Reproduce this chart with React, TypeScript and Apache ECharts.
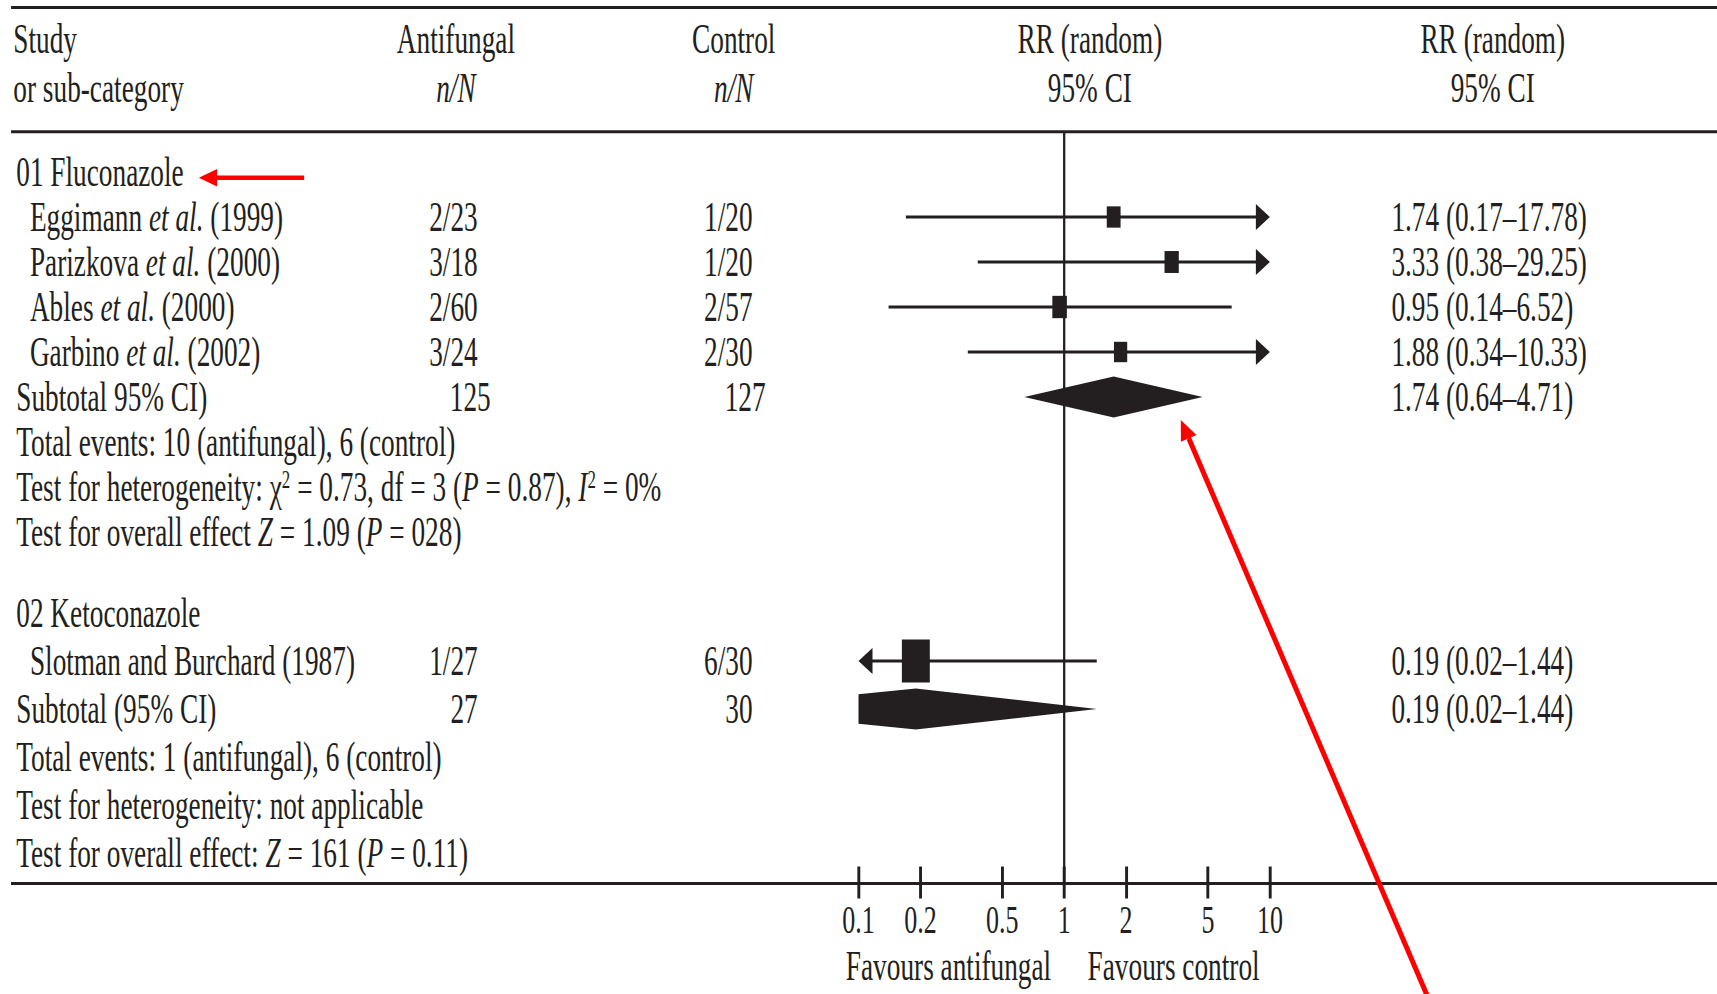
import React, { useEffect, useRef } from "react";
import * as echarts from "echarts";

// ---------------- data ----------------
const sectionTitles = ["01 Fluconazole", "02 Ketoconazole"];
const studyNames = [
  "Eggimann et al. (1999)",
  "Parizkova et al. (2000)",
  "Ables et al. (2000)",
  "Garbino et al. (2002)",
  "Slotman and Burchard (1987)",
];
const studySection = [0, 0, 0, 0, 1];
const antifungalEvents = ["2/23", "3/18", "2/60", "3/24", "1/27"];
const controlEvents = ["1/20", "1/20", "2/57", "2/30", "6/30"];
const studyRR = [1.74, 3.33, 0.95, 1.88, 0.19];
const studyLow = [0.17, 0.38, 0.14, 0.34, 0.02];
const studyHigh = [17.78, 29.25, 6.52, 10.33, 1.44];
const studyWeight = [24.5, 26, 27, 22.5, 100];

const subtotalLabels = ["Subtotal 95% CI)", "Subtotal (95% CI)"];
const subtotalAntifungal = ["125", "27"];
const subtotalControl = ["127", "30"];
const subtotalRR = [1.74, 0.19];
const subtotalLow = [0.64, 0.02];
const subtotalHigh = [4.71, 1.44];
const totalEvents = [
  "Total events: 10 (antifungal), 6 (control)",
  "Total events: 1 (antifungal), 6 (control)",
];
const heterogeneity = [
  "Test for heterogeneity: χ² = 0.73, df = 3 (P = 0.87), I² = 0%",
  "Test for heterogeneity: not applicable",
];
const overallEffect = [
  "Test for overall effect Z = 1.09 (P = 028)",
  "Test for overall effect: Z = 161 (P = 0.11)",
];

const tickValues = [0.1, 0.2, 0.5, 1, 2, 5, 10];
const axisMin = 0.1;
const axisMax = 10;
const nullEffect = 1;
const favourLabels = ["Favours antifungal", "Favours control"];
const headerTop = ["Study", "Antifungal", "Control", "RR (random)", "RR (random)"];
const headerBottom = ["or sub-category", "{it|n/N}", "{it|n/N}", "95% CI", "95% CI"];

// ---------------- layout (virtual, horizontally condensed canvas) ----------------
const VW = 2642;
const VH = 994;
const SX = 1717 / VW;
const INK = "#231f20";
const RED = "#ff0000";
const FONT = "'Liberation Serif', 'Times New Roman', Times, serif";
const FS = 42;

const GRID_LEFT = 1321;
const GRID_RIGHT = VW - 1954;
const AXIS_Y = 883.5;

const X_LEFT = 25;
const X_STUDY = 46;
const X_ANTI = 735;
const X_CTRL = 1158;
const X_RR = 2141;
const WIDE_SHIFT = 20;
const HEADER_X = [20.5, 701.5, 1129, 1677, 2297];
const HEADER_ALIGN = ["left", "center", "center", "center", "center"];

const SQ_FULL = 43;
const AH_L = 21.5;
const AH_W = 13;
const DIAMOND_H = 20.5;

const baseRich = { fontFamily: FONT, fontSize: FS, lineHeight: FS, fill: INK };
const rich: any = {
  n: { ...baseRich },
  it: { ...baseRich, fontStyle: "italic" },
  sup: { fontFamily: FONT, fontSize: 26, lineHeight: 26, fill: INK, verticalAlign: "top" },
};

const fmt = (t: string) =>
  t
    .replace("et al.", "{it|et al.}")
    .replace(/\(P =/g, "({it|P} =")
    .replace(/Z =/g, "{it|Z} =")
    .replace("I²", "{it|I}{sup|2}")
    .replace(/²/g, "{sup|2}");

const rrText = (v: number, lo: number, hi: number) =>
  `${v.toFixed(2)} (${lo.toFixed(2)}–${hi.toFixed(2)})`;

function label(x: number, y: number, text: string, align = "left", size = FS): any {
  return {
    type: "text",
    x,
    y,
    style: {
      legacy: false,
      text,
      fill: INK,
      fontFamily: FONT,
      fontSize: size,
      lineHeight: size,
      align,
      verticalAlign: "middle",
      rich,
    },
  };
}
const hline = (x1: number, x2: number, y: number, w = 3): any => ({
  type: "line",
  shape: { x1, y1: y, x2, y2: y },
  style: { stroke: INK, lineWidth: w },
});
const poly = (points: number[][], fill = INK): any => ({
  type: "polygon",
  shape: { points },
  style: { fill },
});

function sectionRows(s: number) {
  const rows: any[] = [{ kind: "title", text: sectionTitles[s] }];
  studyNames.forEach((_, i) => {
    if (studySection[i] === s) rows.push({ kind: "study", i });
  });
  rows.push({ kind: "subtotal", s });
  rows.push({ kind: "note", text: totalEvents[s] });
  rows.push({ kind: "note", text: heterogeneity[s] });
  rows.push({ kind: "note", text: overallEffect[s] });
  return rows;
}

function makeRenderer(rows: any[]) {
  return (params: any, api: any) => {
    const r = rows[params.dataIndex];
    const k = params.dataIndex;
    const px = (v: number) => api.coord([v, k])[0];
    const y = api.coord([nullEffect, k])[1];
    const children: any[] = [];
    if (r.kind === "title" || r.kind === "note") {
      children.push(label(X_LEFT, y, fmt(r.text)));
    } else if (r.kind === "study") {
      const i = r.i;
      const lo = studyLow[i];
      const hi = studyHigh[i];
      let xl = px(Math.max(lo, axisMin));
      let xr = px(Math.min(hi, axisMax));
      const xlTip = xl;
      const xrTip = xr;
      if (hi > axisMax) xr -= AH_L - 1;
      if (lo < axisMin) xl += AH_L - 1;
      children.push(hline(xl, xr, y, 3));
      if (hi > axisMax) children.push(poly([[xrTip, y], [xrTip - AH_L, y - AH_W], [xrTip - AH_L, y + AH_W]]));
      if (lo < axisMin) children.push(poly([[xlTip, y], [xlTip + AH_L, y - AH_W], [xlTip + AH_L, y + AH_W]]));
      const side = SQ_FULL * Math.sqrt(studyWeight[i] / 100);
      const xc = px(studyRR[i]);
      children.push({
        type: "rect",
        shape: { x: xc - side / 2, y: y - side / 2, width: side, height: side },
        style: { fill: INK },
      });
      children.push(label(X_STUDY, y, fmt(studyNames[i])));
      children.push(label(X_ANTI, y, antifungalEvents[i], "right"));
      children.push(label(X_CTRL, y, controlEvents[i], "right"));
      children.push(label(X_RR, y, rrText(studyRR[i], lo, hi)));
    } else if (r.kind === "subtotal") {
      const s = r.s;
      const xl = px(subtotalLow[s]);
      const xc = px(subtotalRR[s]);
      const xr = px(subtotalHigh[s]);
      const xmin = px(axisMin);
      const xmax = px(axisMax);
      const h = DIAMOND_H;
      const pts: number[][] = [];
      if (xl < xmin) {
        const d = (h * (xmin - xl)) / (xc - xl);
        pts.push([xmin, y + d], [xmin, y - d]);
      } else pts.push([xl, y]);
      pts.push([xc, y - h]);
      if (xr > xmax) {
        const d = (h * (xr - xmax)) / (xr - xc);
        pts.push([xmax, y - d], [xmax, y + d]);
      } else pts.push([xr, y]);
      pts.push([xc, y + h]);
      children.push(poly(pts));
      const a = subtotalAntifungal[s];
      const c = subtotalControl[s];
      children.push(label(X_LEFT, y, subtotalLabels[s]));
      children.push(label(X_ANTI + (a.length > 2 ? WIDE_SHIFT : 0), y, a, "right"));
      children.push(label(X_CTRL + (c.length > 2 ? WIDE_SHIFT : 0), y, c, "right"));
      children.push(label(X_RR, y, rrText(subtotalRR[s], subtotalLow[s], subtotalHigh[s])));
    }
    return { type: "group", children };
  };
}

const rows1 = sectionRows(0);
const rows2 = sectionRows(1);

function buildOption(): any {
  const logAxis = (gridIndex: number, extra: any = {}) => ({
    gridIndex,
    type: "log",
    logBase: 10,
    min: axisMin,
    max: axisMax,
    show: false,
    splitLine: { show: false },
    ...extra,
  });
  const header: any[] = [];
  headerTop.forEach((t, c) => {
    header.push(label(HEADER_X[c], 39, t, HEADER_ALIGN[c]));
    header.push(label(HEADER_X[c], 88, headerBottom[c], HEADER_ALIGN[c]));
  });
  return {
    animation: false,
    backgroundColor: "#ffffff",
    grid: [
      { left: GRID_LEFT, right: GRID_RIGHT, top: 133, bottom: VH - AXIS_Y },
      { left: GRID_LEFT, right: GRID_RIGHT, top: 149.5, height: 405 },
      { left: GRID_LEFT, right: GRID_RIGHT, top: 589, height: 288 },
      { left: GRID_LEFT, right: GRID_RIGHT, top: 133, bottom: VH - AXIS_Y },
    ],
    xAxis: [
      logAxis(0, {
        show: true,
        position: "bottom",
        axisLine: { show: false },
        axisTick: {
          show: true,
          inside: true,
          length: 17,
          customValues: tickValues,
          lineStyle: { color: INK, width: 4.5 },
        },
        axisLabel: {
          show: true,
          customValues: tickValues,
          margin: 16,
          color: INK,
          fontFamily: FONT,
          fontSize: 40,
          hideOverlap: false,
          formatter: (v: number) => String(+Number(v).toPrecision(3)),
        },
      }),
      logAxis(1),
      logAxis(2),
      logAxis(3, {
        show: true,
        position: "bottom",
        axisLine: { show: false },
        axisTick: {
          show: true,
          inside: false,
          length: 15,
          customValues: tickValues,
          lineStyle: { color: INK, width: 4.5 },
        },
        axisLabel: { show: false },
      }),
    ],
    yAxis: [
      { gridIndex: 0, type: "value", min: 0, max: 1, show: false },
      { gridIndex: 1, type: "category", inverse: true, show: false, data: rows1.map((_, k) => String(k)) },
      { gridIndex: 2, type: "category", inverse: true, show: false, data: rows2.map((_, k) => String(k)) },
      { gridIndex: 3, type: "value", min: 0, max: 1, show: false },
    ],
    series: [
      {
        type: "custom",
        xAxisIndex: 0,
        yAxisIndex: 0,
        silent: true,
        data: [[nullEffect, 0]],
        renderItem: (_p: any, api: any) => {
          const [x0, yb] = api.coord([nullEffect, 0]);
          const yt = api.coord([nullEffect, 1])[1];
          return {
            type: "group",
            children: [
              { type: "line", shape: { x1: x0, y1: yt, x2: x0, y2: yb }, style: { stroke: INK, lineWidth: 3.5 } },
              label(x0 - 20, yb + 82, favourLabels[0], "right"),
              label(x0 + 36, yb + 82, favourLabels[1], "left"),
            ],
          };
        },
      },
      {
        type: "custom",
        xAxisIndex: 1,
        yAxisIndex: 1,
        silent: true,
        data: rows1.map((r, k) => [r.kind === "study" ? studyRR[r.i] : r.kind === "subtotal" ? subtotalRR[r.s] : nullEffect, k]),
        renderItem: makeRenderer(rows1),
      },
      {
        type: "custom",
        xAxisIndex: 2,
        yAxisIndex: 2,
        silent: true,
        data: rows2.map((r, k) => [r.kind === "study" ? studyRR[r.i] : r.kind === "subtotal" ? subtotalRR[r.s] : nullEffect, k]),
        renderItem: makeRenderer(rows2),
      },
    ],
    graphic: [
      hline(17, VW, 7.5, 3),
      hline(17, VW, 131.7, 3),
      hline(17, VW, AXIS_Y, 3),
      ...header,
      // red annotation arrows
      {
        type: "line",
        z: 100,
        shape: { x1: 468, y1: 177.7, x2: 330, y2: 177.7 },
        style: { stroke: RED, lineWidth: 4.5 },
      },
      { ...poly([[306, 177.7], [334, 169], [334, 186.5]], RED), z: 100 },
      {
        type: "line",
        z: 100,
        shape: { x1: 1829, y1: 438, x2: 2220, y2: 1032 },
        style: { stroke: RED, lineWidth: 7 },
      },
      { ...poly([[1816.9, 420], [1841.1, 435], [1817.1, 441.7]], RED), z: 100 },
    ],
  };
}

export default function App() {
  const ref = useRef<HTMLDivElement>(null);
  useEffect(() => {
    if (!ref.current) return;
    const chart = echarts.init(ref.current, null, { renderer: "svg" });
    chart.setOption(buildOption());
    return () => chart.dispose();
  }, []);
  return (
    <div
      style={{
        position: "fixed",
        left: 0,
        top: 0,
        width: 1717,
        height: 994,
        overflow: "hidden",
        background: "#ffffff",
      }}
    >
      <div
        ref={ref}
        style={{ width: VW, height: VH, transform: `scaleX(${SX})`, transformOrigin: "0 0" }}
      />
    </div>
  );
}
